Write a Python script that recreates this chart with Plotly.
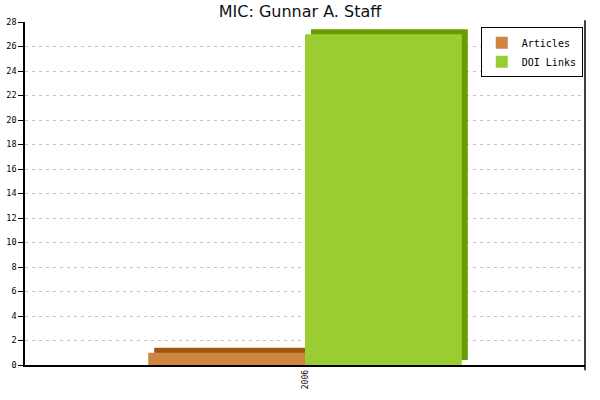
"""
MIC author chart: articles vs DOI links per year (pseudo-3D bars).
"""

import plotly.graph_objects as go

TITLE = 'MIC: Gunnar A. Staff'
YEARS = ['2006']
ARTICLES = [1]
DOI_LINKS = [27]
Y_TICKS = list(range(0, 29, 2))

FRONT = {'Articles': '#cd853f', 'DOI Links': '#9acd32'}
SIDE = {'Articles': '#a0560f', 'DOI Links': '#699c00'}

BAR_W = 0.28        # category units
DEPTH_X = 0.0107    # ~6px sideways
DEPTH_Y = 0.41      # ~5px upward, in y units

fig = go.Figure()

series = [('Articles', ARTICLES, -BAR_W), ('DOI Links', DOI_LINKS, 0.0)]

# back faces first, so the fronts cover them
for name, vals, off in series:
    fig.add_trace(go.Bar(
        x=YEARS, y=vals, base=DEPTH_Y, offset=off + DEPTH_X, width=BAR_W,
        marker=dict(color=SIDE[name], line=dict(width=0)),
        showlegend=False, hoverinfo='skip',
    ))

for name, vals, off in series:
    fig.add_trace(go.Bar(
        x=YEARS, y=vals, name=name, offset=off, width=BAR_W,
        marker=dict(color=FRONT[name], line=dict(width=0)),
    ))

fig.update_layout(
    width=600, height=400,
    barmode='overlay',
    plot_bgcolor='white', paper_bgcolor='white',
    margin=dict(l=25, r=15, t=22, b=35, autoexpand=False),
    title=dict(text=TITLE, x=0.5, xref='container', y=0.972, yanchor='middle',
               font=dict(family='DejaVu Sans', size=16, color='#111')),
    font=dict(family='DejaVu Sans Mono', color='black'),
    legend=dict(x=0.996, xanchor='right', y=0.985, yanchor='top',
                bordercolor='black', borderwidth=1, bgcolor='white',
                font=dict(family='DejaVu Sans Mono', size=10),
                itemwidth=30, tracegroupgap=0,
                traceorder='normal'),
    shapes=[dict(type='line', xref='paper', yref='paper', x0=1, x1=1,
                 y0=-0.015, y1=1.005, line=dict(color='black', width=1.5))],
)

fig.update_xaxes(
    type='category', range=[-0.5, 0.5], automargin=False,
    showline=True, linecolor='black', linewidth=1.5,
    showgrid=False, ticks='', tickangle=-90,
    tickfont=dict(family='DejaVu Sans Mono', size=8),
)
fig.update_yaxes(
    range=[0, 28], tickvals=Y_TICKS, automargin=False,
    showline=True, linecolor='black', linewidth=1.5,
    ticks='outside', ticklen=5, tickcolor='black',
    tickfont=dict(family='DejaVu Sans Mono', size=8.5),
    showgrid=True, gridcolor='#c4c4c4', griddash='3px,4px', gridwidth=1,
    zeroline=False,
)

# page has a default body margin; drop it so the chart sits at 0,0
fig.write_html('out.html', config={'displayModeBar': False},
               post_script="document.body.style.margin='0';")
